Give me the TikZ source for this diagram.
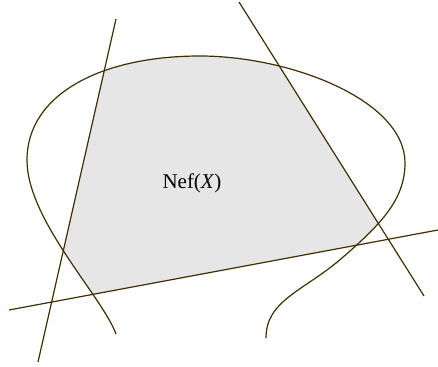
\documentclass[tikz,border=0pt]{standalone}
\usepackage{fontspec}
\setmainfont{Liberation Serif}
\definecolor{linec}{RGB}{62,46,0}
\definecolor{conefill}{RGB}{230,230,230}
\tikzset{
  curveline/.style={draw=linec, line width=1.2pt},
  straightline/.style={draw=linec, line width=1.2pt},
  label/.style={font=\fontsize{21}{25}\selectfont, inner sep=0pt}
}
\begin{document}
\begin{tikzpicture}[x=1pt,y=-1pt]
\useasboundingbox (0,0) rectangle (438,366);
% line end points
\coordinate (a1) at (116,19);
\coordinate (a2) at (38,362);
\coordinate (b1) at (239,2);
\coordinate (b2) at (424,296);
\coordinate (c1) at (9,310);
\coordinate (c2) at (438,230);
\coordinate (ac) at (intersection of a1--a2 and c1--c2);
\coordinate (bc) at (intersection of b1--b2 and c1--c2);
% curve points
\coordinate (p0) at (116,334);
\coordinate (p1) at (27,160);
\coordinate (p2) at (200,56);
\coordinate (p3) at (405,163);
\coordinate (p4) at (342,258);
\coordinate (p5) at (266,338);
% shaded cone
\begin{scope}
\clip (p0) .. controls (102,296) and (27,220) .. (p1)
  .. controls (27,95) and (100,56) .. (p2)
  .. controls (290,56) and (405,100) .. (p3)
  .. controls (405,200) and (380,225) .. (p4)
  .. controls (304,291) and (266,300) .. (p5) -- cycle;
\fill[conefill] (a1) -- (ac) -- (bc) -- (b1) -- cycle;
\end{scope}
% curve
\draw[curveline] (p0) .. controls (102,296) and (27,220) .. (p1)
  .. controls (27,95) and (100,56) .. (p2)
  .. controls (290,56) and (405,100) .. (p3)
  .. controls (405,200) and (380,225) .. (p4)
  .. controls (304,291) and (266,300) .. (p5);
% lines
\draw[straightline] (a1) -- (a2);
\draw[straightline] (b1) -- (b2);
\draw[straightline] (c1) -- (c2);
\node[label] (nef) at (192,183) {Nef(\textit{X})};
\end{tikzpicture}
\end{document}
